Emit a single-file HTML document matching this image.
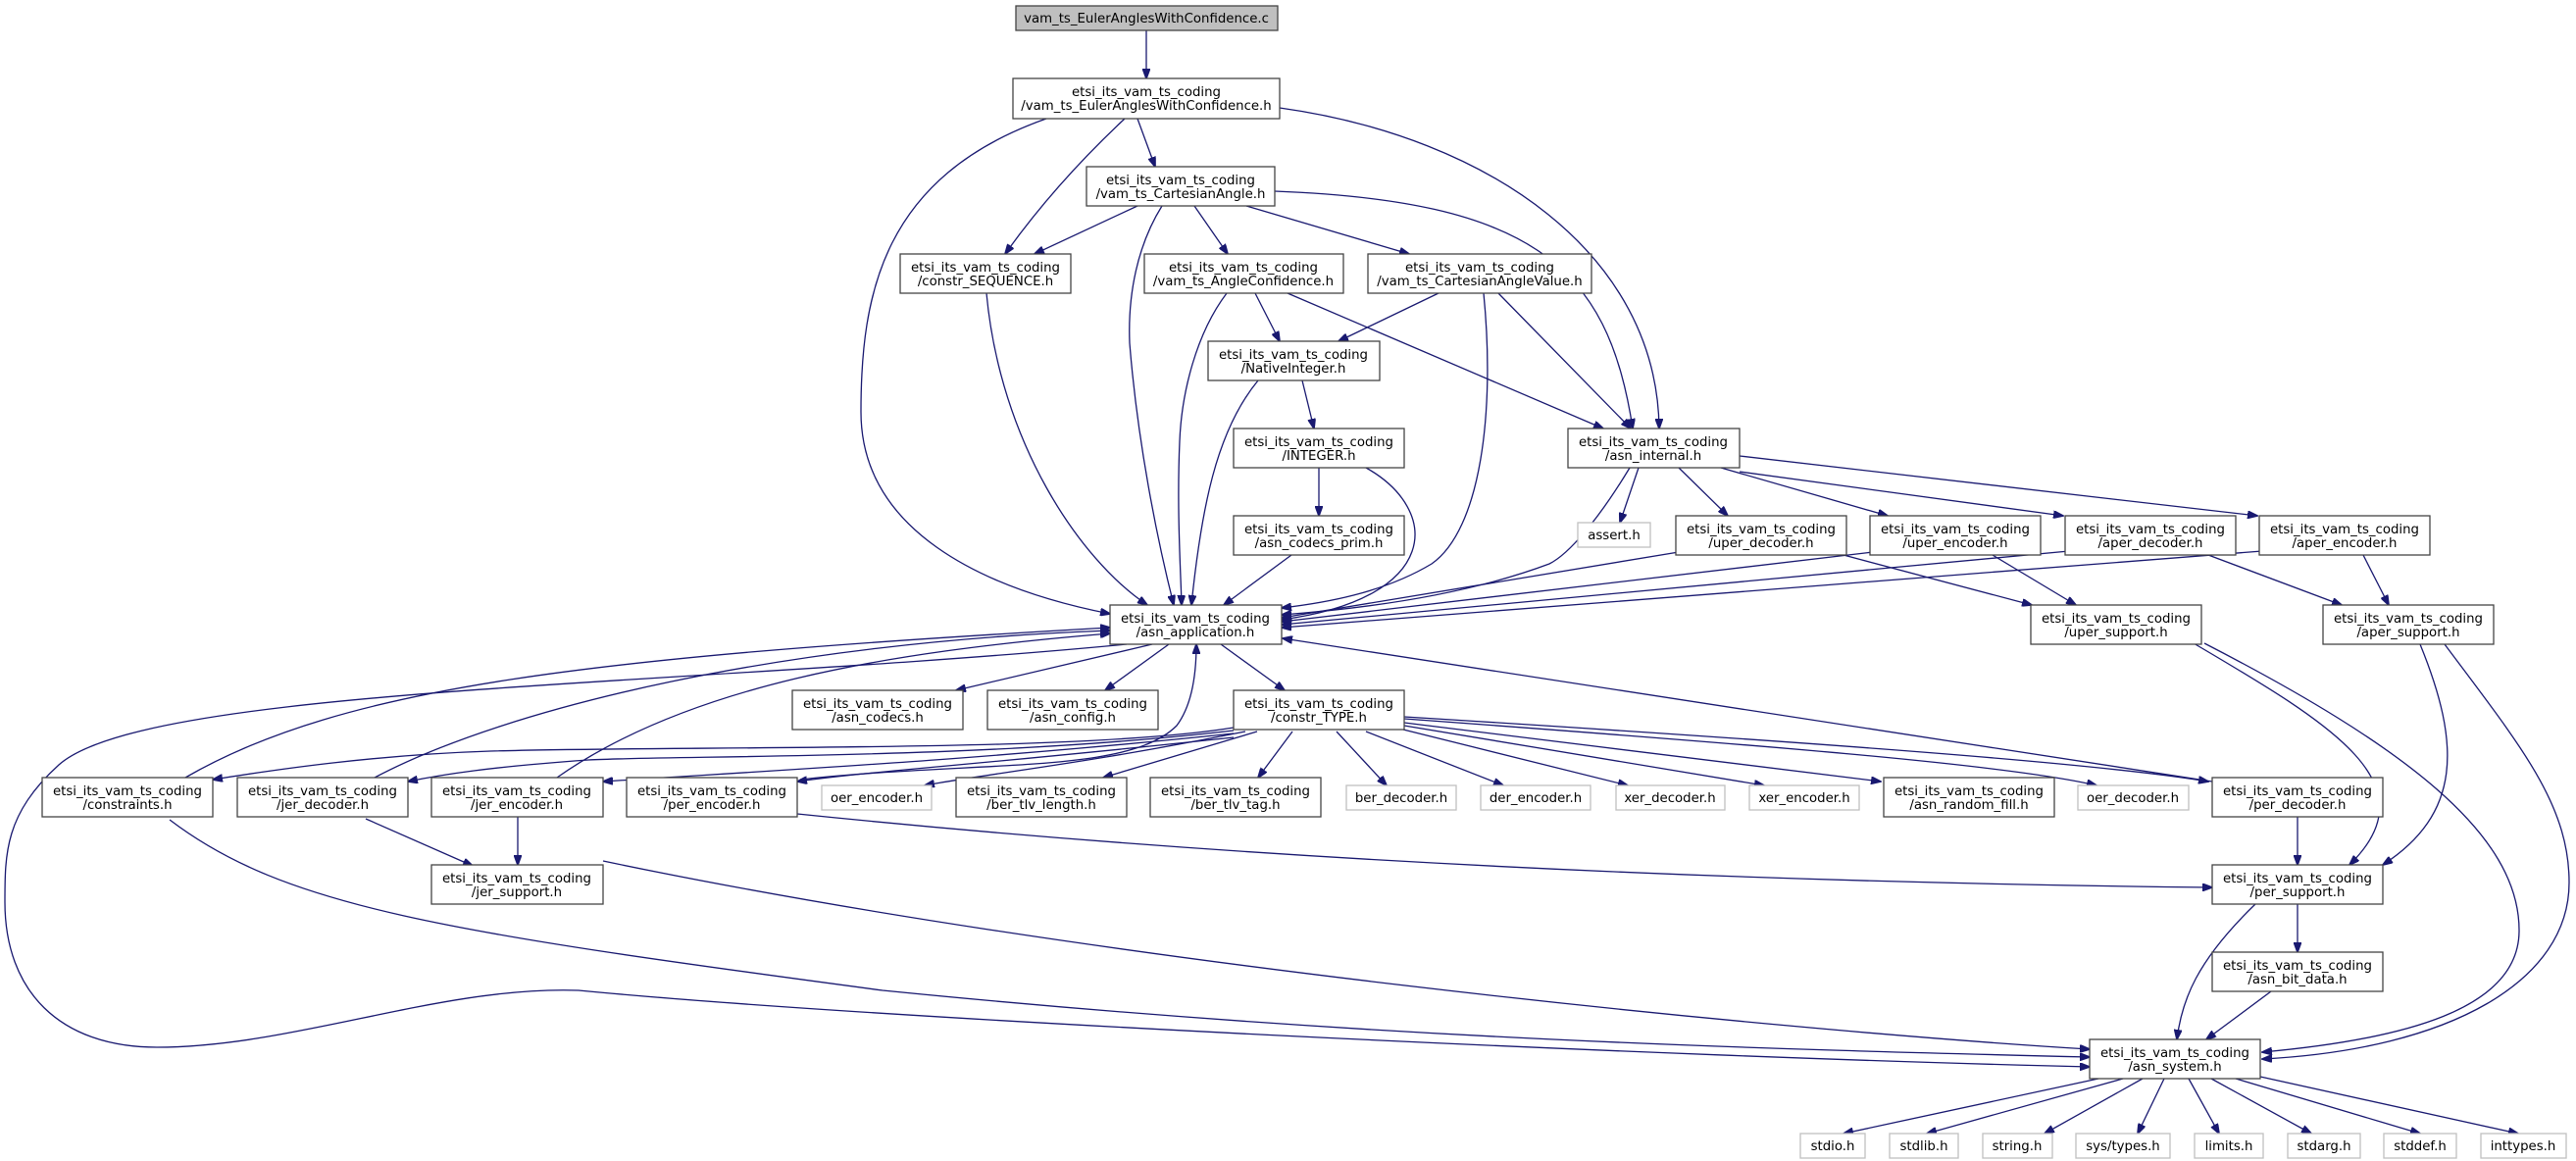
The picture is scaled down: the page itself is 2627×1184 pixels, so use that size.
<!DOCTYPE html>
<html><head><meta charset="utf-8"><style>
html,body{margin:0;padding:0;background:#fff}
svg{display:block}
text{font-family:"DejaVu Sans","Liberation Sans",sans-serif;font-size:13.3px;fill:#000;text-anchor:middle}
.n{fill:#fff;stroke:#444;stroke-width:1.3}
.g{fill:#fff;stroke:#c0c0c0;stroke-width:1.3}
.t{fill:#bfbfbf;stroke:#444;stroke-width:1.3}
.e path{fill:none;stroke:#191970;stroke-width:1.3;marker-end:url(#a)}
</style></head><body>
<svg width="2627" height="1184" viewBox="0 0 2627 1184" xmlns="http://www.w3.org/2000/svg">
<defs><marker id="a" markerUnits="userSpaceOnUse" markerWidth="11" markerHeight="8" refX="10" refY="4" orient="auto"><path d="M0,0 L11,4 L0,8 z" fill="#191970" stroke="#191970"/></marker></defs>
<g class="e">
<path d="M1169,31 L1169,80"/>
<path d="M1160,121 L1178,170"/>
<path d="M1147,121 C1100,165 1060,210 1025,259"/>
<path d="M1067,121 C900,180 878,300 878,420 C878,540 1000,600 1132,626"/>
<path d="M1305,110 C1520,140 1690,260 1692,437"/>
<path d="M1160,210 L1055,259"/>
<path d="M1185,210 C1160,250 1150,300 1152,350 C1160,450 1180,550 1197,617"/>
<path d="M1218,210 L1252,259"/>
<path d="M1271,210 L1437,259"/>
<path d="M1300,195 C1560,205 1640,270 1665,437"/>
<path d="M1006,299 C1020,450 1100,570 1170,617"/>
<path d="M1280,299 L1305,348"/>
<path d="M1251,299 C1220,340 1205,400 1203,450 C1200,520 1204,580 1205,617"/>
<path d="M1313,299 L1635,437"/>
<path d="M1467,299 L1365,348"/>
<path d="M1513,299 C1525,420 1510,540 1460,575 C1410,605 1350,615 1307,620"/>
<path d="M1528,299 L1663,437"/>
<path d="M1328,388 L1340,437"/>
<path d="M1283,388 C1240,440 1225,520 1215,617"/>
<path d="M1345,477 L1345,526"/>
<path d="M1393,477 C1470,520 1470,610 1307,632"/>
<path d="M1317,566 L1248,617"/>
<path d="M1671,477 L1652,533"/>
<path d="M1712,477 L1762,526"/>
<path d="M1755,477 L1925,526"/>
<path d="M1774,481 L2104,526"/>
<path d="M1774,465 L2302,526"/>
<path d="M1662,477 C1630,530 1600,565 1580,575 C1500,605 1400,620 1307,627"/>
<path d="M1712,563 L1307,630"/>
<path d="M1880,566 L2072,617"/>
<path d="M1910,563 L1307,634"/>
<path d="M2032,566 L2117,617"/>
<path d="M2110,562 L1307,637"/>
<path d="M2252,566 L2388,617"/>
<path d="M2307,562 L1307,640"/>
<path d="M2410,566 L2436,617"/>
<path d="M1175,657 L975,704"/>
<path d="M1192,657 L1127,704"/>
<path d="M1245,657 L1310,704"/>
<path d="M1149,657 C700,700 150,700 60,780 C5,830 5,870 5,920 C5,1010 60,1068 160,1068 C300,1068 450,1005 590,1010 C900,1040 1700,1078 2131,1088"/>
<path d="M173,836 C290,925 450,950 900,1010 C1400,1060 1800,1070 2131,1078"/>
<path d="M615,878 C1100,980 1800,1050 2131,1070"/>
<path d="M813,830 C1300,880 1800,900 2256,905"/>
<path d="M2300,922 C2240,980 2225,1020 2220,1060"/>
<path d="M2343,922 L2343,971"/>
<path d="M2316,1011 L2250,1060"/>
<path d="M2237,656 C2380,740 2480,800 2396,882"/>
<path d="M2248,656 C2450,760 2570,850 2569,950 C2568,1030 2450,1060 2307,1073"/>
<path d="M2468,657 C2510,760 2510,830 2430,882"/>
<path d="M2493,657 C2570,760 2620,820 2620,900 C2620,1000 2500,1070 2307,1080"/>
<path d="M2140,1100 L1880,1156"/>
<path d="M2165,1100 L1965,1156"/>
<path d="M2185,1100 L2085,1156"/>
<path d="M2207,1100 L2180,1156"/>
<path d="M2232,1100 L2263,1156"/>
<path d="M2255,1100 L2357,1156"/>
<path d="M2280,1100 L2468,1156"/>
<path d="M2305,1098 L2568,1156"/>
<path d="M1258,742 C1100,768 700,760 500,766 C380,770 280,785 217,795"/>
<path d="M1258,745 C1000,775 700,770 600,775 C500,782 450,790 416,797"/>
<path d="M1258,748 C1000,775 800,785 615,797"/>
<path d="M1258,752 C1000,780 900,785 813,797"/>
<path d="M1270,746 C1100,780 1000,790 943,801"/>
<path d="M1282,746 L1125,793"/>
<path d="M1318,746 L1283,793"/>
<path d="M1363,746 L1414,801"/>
<path d="M1393,746 L1533,801"/>
<path d="M1431,744 L1660,801"/>
<path d="M1432,740 L1799,801"/>
<path d="M1432,737 L1918,797"/>
<path d="M1432,733 C1800,760 2050,780 2138,801"/>
<path d="M1432,731 C1900,760 2150,780 2252,797"/>
<path d="M2256,797 L1308,651"/>
<path d="M2343,833 L2343,882"/>
<path d="M189,793 C350,700 600,670 1132,640"/>
<path d="M382,793 C520,720 800,655 1132,643"/>
<path d="M568,793 C700,700 900,665 1132,646"/>
<path d="M816,795 C1000,775 1150,790 1200,740 C1215,720 1220,690 1220,657"/>
<path d="M373,835 L482,883"/>
<path d="M528,833 L528,882"/>
</g>
<g>
<rect class="t" x="1036" y="6" width="267" height="25"/><text x="1169" y="23">vam_ts_EulerAnglesWithConfidence.c</text>
<rect class="n" x="1033" y="80" width="272" height="41"/><text x="1169" y="98">etsi_its_vam_ts_coding</text><text x="1169" y="112">/vam_ts_EulerAnglesWithConfidence.h</text>
<rect class="n" x="1108" y="170" width="192" height="40"/><text x="1204" y="188">etsi_its_vam_ts_coding</text><text x="1204" y="202">/vam_ts_CartesianAngle.h</text>
<rect class="n" x="918" y="259" width="174" height="40"/><text x="1005" y="277">etsi_its_vam_ts_coding</text><text x="1005" y="291">/constr_SEQUENCE.h</text>
<rect class="n" x="1167" y="259" width="203" height="40"/><text x="1268" y="277">etsi_its_vam_ts_coding</text><text x="1268" y="291">/vam_ts_AngleConfidence.h</text>
<rect class="n" x="1395" y="259" width="228" height="40"/><text x="1509" y="277">etsi_its_vam_ts_coding</text><text x="1509" y="291">/vam_ts_CartesianAngleValue.h</text>
<rect class="n" x="1232" y="348" width="175" height="40"/><text x="1319" y="366">etsi_its_vam_ts_coding</text><text x="1319" y="380">/NativeInteger.h</text>
<rect class="n" x="1258" y="437" width="174" height="40"/><text x="1345" y="455">etsi_its_vam_ts_coding</text><text x="1345" y="469">/INTEGER.h</text>
<rect class="n" x="1599" y="437" width="175" height="40"/><text x="1686" y="455">etsi_its_vam_ts_coding</text><text x="1686" y="469">/asn_internal.h</text>
<rect class="n" x="1258" y="526" width="174" height="40"/><text x="1345" y="544">etsi_its_vam_ts_coding</text><text x="1345" y="558">/asn_codecs_prim.h</text>
<rect class="g" x="1609" y="533" width="74" height="25"/><text x="1646" y="550">assert.h</text>
<rect class="n" x="1709" y="526" width="174" height="40"/><text x="1796" y="544">etsi_its_vam_ts_coding</text><text x="1796" y="558">/uper_decoder.h</text>
<rect class="n" x="1907" y="526" width="174" height="40"/><text x="1994" y="544">etsi_its_vam_ts_coding</text><text x="1994" y="558">/uper_encoder.h</text>
<rect class="n" x="2106" y="526" width="174" height="40"/><text x="2193" y="544">etsi_its_vam_ts_coding</text><text x="2193" y="558">/aper_decoder.h</text>
<rect class="n" x="2304" y="526" width="174" height="40"/><text x="2391" y="544">etsi_its_vam_ts_coding</text><text x="2391" y="558">/aper_encoder.h</text>
<rect class="n" x="1132" y="617" width="175" height="40"/><text x="1219" y="635">etsi_its_vam_ts_coding</text><text x="1219" y="649">/asn_application.h</text>
<rect class="n" x="2071" y="617" width="174" height="40"/><text x="2158" y="635">etsi_its_vam_ts_coding</text><text x="2158" y="649">/uper_support.h</text>
<rect class="n" x="2369" y="617" width="174" height="40"/><text x="2456" y="635">etsi_its_vam_ts_coding</text><text x="2456" y="649">/aper_support.h</text>
<rect class="n" x="808" y="704" width="174" height="40"/><text x="895" y="722">etsi_its_vam_ts_coding</text><text x="895" y="736">/asn_codecs.h</text>
<rect class="n" x="1007" y="704" width="174" height="40"/><text x="1094" y="722">etsi_its_vam_ts_coding</text><text x="1094" y="736">/asn_config.h</text>
<rect class="n" x="1258" y="704" width="174" height="40"/><text x="1345" y="722">etsi_its_vam_ts_coding</text><text x="1345" y="736">/constr_TYPE.h</text>
<rect class="n" x="43" y="793" width="174" height="40"/><text x="130" y="811">etsi_its_vam_ts_coding</text><text x="130" y="825">/constraints.h</text>
<rect class="n" x="242" y="793" width="174" height="40"/><text x="329" y="811">etsi_its_vam_ts_coding</text><text x="329" y="825">/jer_decoder.h</text>
<rect class="n" x="440" y="793" width="175" height="40"/><text x="527" y="811">etsi_its_vam_ts_coding</text><text x="527" y="825">/jer_encoder.h</text>
<rect class="n" x="639" y="793" width="174" height="40"/><text x="726" y="811">etsi_its_vam_ts_coding</text><text x="726" y="825">/per_encoder.h</text>
<rect class="g" x="838" y="801" width="112" height="25"/><text x="894" y="818">oer_encoder.h</text>
<rect class="n" x="975" y="793" width="174" height="40"/><text x="1062" y="811">etsi_its_vam_ts_coding</text><text x="1062" y="825">/ber_tlv_length.h</text>
<rect class="n" x="1173" y="793" width="174" height="40"/><text x="1260" y="811">etsi_its_vam_ts_coding</text><text x="1260" y="825">/ber_tlv_tag.h</text>
<rect class="g" x="1373" y="801" width="112" height="25"/><text x="1429" y="818">ber_decoder.h</text>
<rect class="g" x="1510" y="801" width="112" height="25"/><text x="1566" y="818">der_encoder.h</text>
<rect class="g" x="1648" y="801" width="111" height="25"/><text x="1703" y="818">xer_decoder.h</text>
<rect class="g" x="1784" y="801" width="112" height="25"/><text x="1840" y="818">xer_encoder.h</text>
<rect class="n" x="1921" y="793" width="174" height="40"/><text x="2008" y="811">etsi_its_vam_ts_coding</text><text x="2008" y="825">/asn_random_fill.h</text>
<rect class="g" x="2119" y="801" width="113" height="25"/><text x="2175" y="818">oer_decoder.h</text>
<rect class="n" x="2256" y="793" width="174" height="40"/><text x="2343" y="811">etsi_its_vam_ts_coding</text><text x="2343" y="825">/per_decoder.h</text>
<rect class="n" x="440" y="882" width="175" height="40"/><text x="527" y="900">etsi_its_vam_ts_coding</text><text x="527" y="914">/jer_support.h</text>
<rect class="n" x="2256" y="882" width="174" height="40"/><text x="2343" y="900">etsi_its_vam_ts_coding</text><text x="2343" y="914">/per_support.h</text>
<rect class="n" x="2256" y="971" width="174" height="40"/><text x="2343" y="989">etsi_its_vam_ts_coding</text><text x="2343" y="1003">/asn_bit_data.h</text>
<rect class="n" x="2131" y="1060" width="174" height="40"/><text x="2218" y="1078">etsi_its_vam_ts_coding</text><text x="2218" y="1092">/asn_system.h</text>
<rect class="g" x="1836" y="1156" width="66" height="25"/><text x="1869" y="1173">stdio.h</text>
<rect class="g" x="1927" y="1156" width="70" height="25"/><text x="1962" y="1173">stdlib.h</text>
<rect class="g" x="2022" y="1156" width="71" height="25"/><text x="2057" y="1173">string.h</text>
<rect class="g" x="2117" y="1156" width="96" height="25"/><text x="2165" y="1173">sys/types.h</text>
<rect class="g" x="2238" y="1156" width="70" height="25"/><text x="2273" y="1173">limits.h</text>
<rect class="g" x="2333" y="1156" width="74" height="25"/><text x="2370" y="1173">stdarg.h</text>
<rect class="g" x="2431" y="1156" width="74" height="25"/><text x="2468" y="1173">stddef.h</text>
<rect class="g" x="2530" y="1156" width="87" height="25"/><text x="2573" y="1173">inttypes.h</text>
</g>
</svg>
</body></html>
